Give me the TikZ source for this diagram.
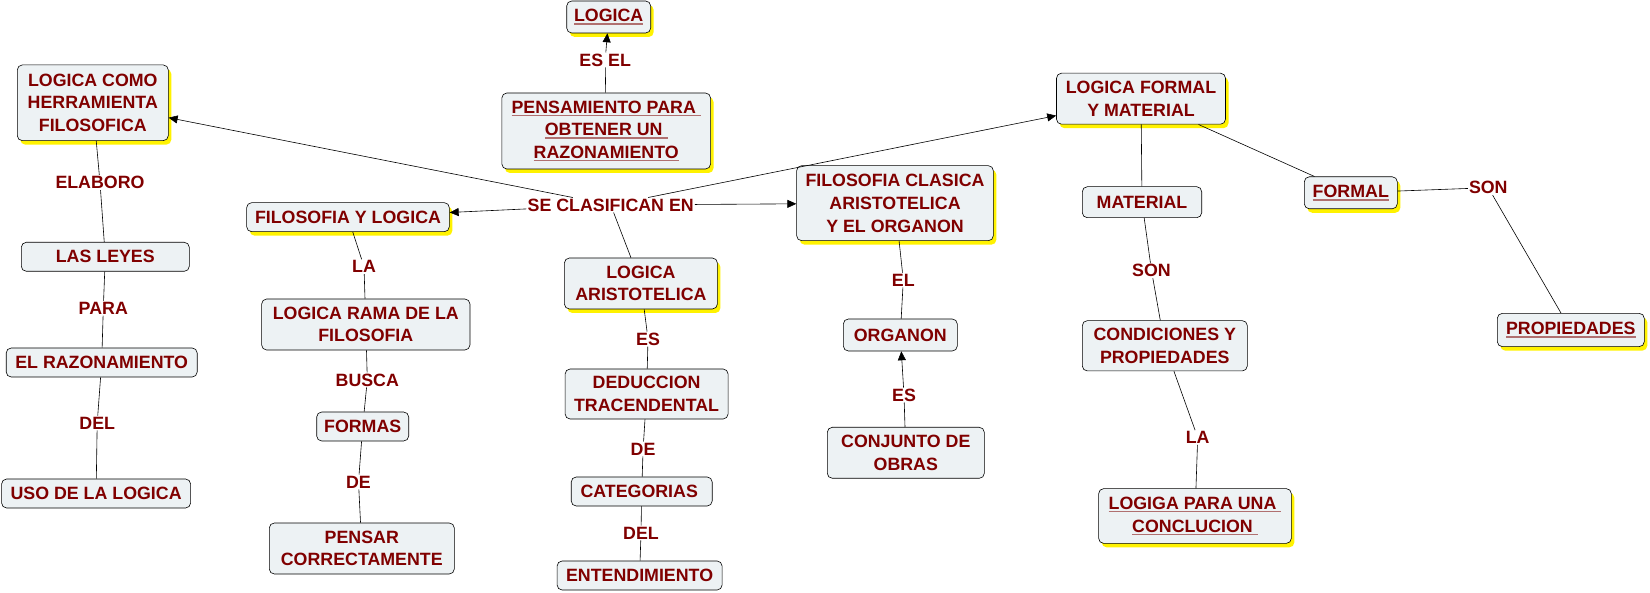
\documentclass[tikz,border=0pt]{standalone}
\usepackage{fontspec}
\setmainfont{Liberation Sans}
\usepackage{tikz}
\usetikzlibrary{arrows.meta, shadows}

\definecolor{cmapred}{HTML}{800000}
\definecolor{boxfill}{HTML}{EDF2F4}
\definecolor{ulred}{HTML}{B07070}

\newcommand{\cmapfont}{\fontsize{17.8}{22.7}\selectfont\bfseries}
\newsavebox{\ulbox}
\newcommand{\ulword}[1]{\leavevmode\sbox{\ulbox}{#1}\rlap{\color{ulred}\rule[-3pt]{\wd\ulbox}{1.5pt}}\usebox{\ulbox}}

\tikzset{
    concept/.style={draw, line width=0.6pt, rounded corners=5pt, fill=boxfill, text=cmapred, font=\cmapfont, align=center, inner sep=2pt},
    glow/.style={drop shadow={fill=yellow, opacity=1, shadow xshift=3pt, shadow yshift=-4pt}},
    boxsz/.style 2 args={minimum width=#1pt, minimum height=#2pt},
    linkword/.style={text=cmapred, font=\cmapfont, inner sep=1pt},
    link/.style={line width=0.6pt},
    linkto/.style={link, -{Triangle[length=9pt, width=8pt]}},
}

\begin{document}
\begin{tikzpicture}[x=1pt, y=-1pt]
    \useasboundingbox (0,0) rectangle (1650,593);

    \node[linkword] (clasif) at (610.7,205) {SE CLASIFICAN EN};

    \node[concept, glow, boxsz={84}{32}] (logica) at (608.7,17) {\ulword{LOGICA}};
    \node[concept, glow, boxsz={208.7}{76}] (pensam) at (606.2,131) {\ulword{PENSAMIENTO PARA\ }\\\ulword{OBTENER UN\ }\\\ulword{RAZONAMIENTO}};
    \node[linkword] (esel) at (605.2,60) {ES EL};

    \node[concept, glow, boxsz={151}{75.7}] (logherr) at (92.8,102.8) {LOGICA COMO\\HERRAMIENTA\\FILOSOFICA};
    \node[concept, boxsz={168}{29}] (leyes) at (105.3,256.8) {LAS LEYES};
    \node[concept, boxsz={191}{29}] (razon) at (101.7,362.5) {EL RAZONAMIENTO};
    \node[concept, boxsz={189}{29}] (uso) at (96.1,493.5) {USO DE LA LOGICA};
    \node[linkword] (elaboro) at (100,182.7) {ELABORO};
    \node[linkword] (para) at (103.3,308.3) {PARA};
    \node[linkword] (delA) at (97.2,423) {DEL};

    \node[concept, glow, boxsz={202.7}{29}] (filolog) at (348,217.2) {FILOSOFIA Y LOGICA};
    \node[concept, boxsz={208.3}{51}] (rama) at (365.8,324.5) {LOGICA RAMA DE LA\\FILOSOFIA};
    \node[concept, boxsz={92}{29}] (formas) at (362.7,426.5) {FORMAS};
    \node[concept, boxsz={185}{51}] (pensar) at (361.8,548.5) {PENSAR\\CORRECTAMENTE};
    \node[linkword] (laA) at (364,266.7) {LA};
    \node[linkword] (busca) at (367.3,380) {BUSCA};
    \node[linkword] (deA) at (358.5,482) {DE};

    \node[concept, glow, boxsz={153}{51}] (logarist) at (640.9,283.5) {LOGICA\\ARISTOTELICA};
    \node[concept, boxsz={163}{50}] (deduc) at (646.6,394) {DEDUCCION\\TRACENDENTAL};
    \node[concept, boxsz={141}{29}] (categ) at (641.7,491.5) {CATEGORIAS\ };
    \node[concept, boxsz={165}{29}] (entend) at (639.6,575.5) {ENTENDIMIENTO};
    \node[linkword] (esA) at (648,339) {ES};
    \node[linkword] (deB) at (643.1,449) {DE};
    \node[linkword] (delB) at (641,533) {DEL};

    \node[concept, glow, boxsz={196.7}{75}] (filocla) at (895,203.2) {FILOSOFIA CLASICA\\ARISTOTELICA\\Y EL ORGANON};
    \node[concept, boxsz={114}{32}] (organon) at (900.3,335) {ORGANON};
    \node[concept, boxsz={157}{51}] (conjunto) at (905.8,452.8) {CONJUNTO DE\\OBRAS};
    \node[linkword] (el) at (903.3,280) {EL};
    \node[linkword] (esB) at (904,395) {ES};

    \node[concept, glow, boxsz={169}{51}] (logformal) at (1141,98.7) {LOGICA FORMAL\\Y MATERIAL};
    \node[concept, boxsz={119.4}{31}] (material) at (1142,202.2) {MATERIAL};
    \node[concept, boxsz={165}{50.3}] (condic) at (1164.8,345.8) {CONDICIONES Y\\PROPIEDADES};
    \node[concept, glow, boxsz={192.7}{54.7}] (logiga) at (1195,516) {\ulword{LOGIGA PARA UNA\ }\\\ulword{CONCLUCION\ }};
    \node[concept, glow, boxsz={93}{32}] (formal) at (1350.8,192.8) {\ulword{FORMAL}};
    \node[concept, glow, boxsz={147}{33.3}] (propied) at (1570.8,330) {\ulword{PROPIEDADES}};
    \node[linkword] (sonA) at (1151.5,270.7) {SON};
    \node[linkword] (laB) at (1197.7,437.5) {LA};
    \node[linkword] (sonB) at (1488.3,187.7) {SON};

    \draw[linkto] (clasif) -- (logherr);
    \draw[linkto] (clasif) -- (filolog);
    \draw[linkto] (clasif) -- (filocla);
    \draw[linkto] (clasif) -- (logformal);
    \draw[link] (clasif) -- (logarist);

    \draw[link] (pensam) -- (esel);
    \draw[linkto] (esel) -- (logica);

    \draw[link] (logherr) -- (elaboro) -- (leyes) -- (para) -- (razon) -- (delA) -- (uso);
    \draw[link] (filolog) -- (laA) -- (rama) -- (busca) -- (formas) -- (deA) -- (pensar);
    \draw[link] (logarist) -- (esA) -- (deduc) -- (deB) -- (categ) -- (delB) -- (entend);

    \draw[link] (filocla) -- (el) -- (organon);
    \draw[link] (conjunto) -- (esB);
    \draw[linkto] (esB) -- (organon);

    \draw[link] (logformal) -- (material) -- (sonA) -- (condic) -- (laB) -- (logiga);
    \draw[link] (logformal) -- (formal) -- (sonB) -- (propied);
\end{tikzpicture}
\end{document}
